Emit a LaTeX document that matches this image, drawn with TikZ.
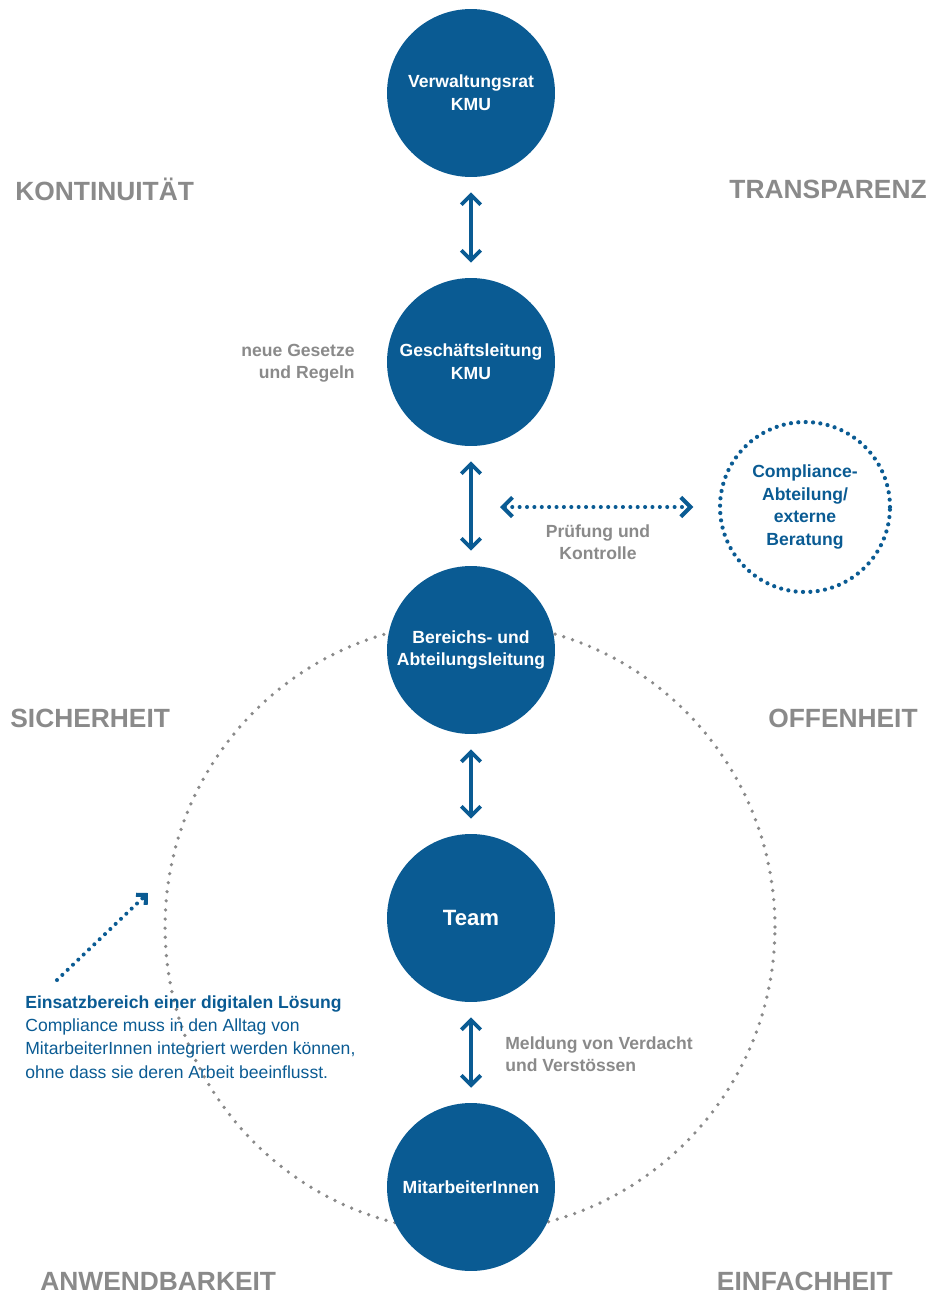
\documentclass[tikz,border=0pt]{standalone}
\usepackage{fontspec}
\setmainfont{Liberation Sans}
\usetikzlibrary{arrows.meta}
\definecolor{kmublue}{HTML}{0A5B93}
\definecolor{labelgray}{HTML}{8A8A8A}
\tikzset{orgcircle/.style={circle, fill=kmublue, text=white, minimum size=3.36cm,
    inner sep=0pt, align=center, font=\bfseries\fontsize{10}{13}\selectfont},
  graytext/.style={text=labelgray, inner sep=0pt, font=\bfseries\fontsize{10}{12.8}\selectfont},
  bigword/.style={text=labelgray, inner sep=0pt, font=\bfseries\fontsize{15}{18}\selectfont},
  barbs/.style={{Straight Barb[length=5.5pt,width=11pt]}-{Straight Barb[length=5.5pt,width=11pt]}},
  updown/.style={draw=kmublue, line width=2.2pt, barbs, shorten <=8.5pt, shorten >=8.5pt},
  bluedots/.style={draw=kmublue, line width=2.3pt, line cap=round, dash pattern=on 0pt off 4.2pt}
}

\begin{document}
\begin{tikzpicture}[x=0.02cm, y=-0.02cm]
      \useasboundingbox (0,0) rectangle (929,1295);
      \draw[labelgray, line width=2.1pt, line cap=round, dash pattern=on 0pt off 5.2pt]
        (470,927) circle[radius=6.1cm];
      \node[orgcircle] (vr) at (471,93) {Verwaltungsrat\\KMU};
      \node[orgcircle] (gl) at (471,362) {Geschäftsleitung\\KMU};
      \node[orgcircle] (bl) at (471,650) {Bereichs- und\\Abteilungsleitung};
      \node[orgcircle, font=\bfseries\fontsize{12.6}{15}\selectfont] (team) at (471,918) {Team};
      \node[orgcircle] (ma) at (471,1187) {MitarbeiterInnen};
      \draw[updown] (vr) -- (gl);
      \draw[updown] (gl) -- (bl);
      \draw[updown] (bl) -- (team);
      \draw[updown] (team) -- (ma);
      \node[circle, bluedots, line width=2.4pt, minimum size=3.4cm, inner sep=0pt, align=center,
        text=kmublue, font=\bfseries\fontsize{10}{12.9}\selectfont] (comp) at (805,507)
        {Compliance-\\Abteilung/\\externe\\Beratung};
      \coordinate (pk) at (500,507);
      \draw[bluedots, barbs, shorten >=14pt] (pk) -- (comp.west);
      \node[graytext, align=center] (pruef) at (598,542) {Prüfung und\\Kontrolle};
      \node[graytext, align=right, anchor=east] (gesetze) at (355,363) {neue Gesetze\\und Regeln};
      \node[graytext, align=left, anchor=west] (meldung) at (505,1054) {Meldung von Verdacht\\und Verstössen};
      \node[bigword, anchor=west] (kont) at (15,189) {KONTINUITÄT};
      \node[bigword, anchor=east] (trans) at (927,189) {TRANSPARENZ};
      \node[bigword, anchor=west] (sich) at (10,718) {SICHERHEIT};
      \node[bigword, anchor=east] (offen) at (918,718) {OFFENHEIT};
      \node[bigword, anchor=west] (anw) at (40,1281) {ANWENDBARKEIT};
      \node[bigword, anchor=east] (einf) at (893,1281) {EINFACHHEIT};
      \node[anchor=west, align=left, text=kmublue, inner sep=0pt,
        font=\fontsize{10}{13.2}\selectfont] (hint) at (25,1037)
        {\textbf{Einsatzbereich einer digitalen Lösung}\\Compliance muss in den Alltag von\\MitarbeiterInnen integriert werden können,\\ohne dass sie deren Arbeit beeinflusst.};
      \coordinate (hintfrom) at (57,980);
      \coordinate (hintto) at (148,893);
      \draw[bluedots, -{Straight Barb[length=4pt,width=8pt]}] (hintfrom) -- (hintto);
\end{tikzpicture}
\end{document}
